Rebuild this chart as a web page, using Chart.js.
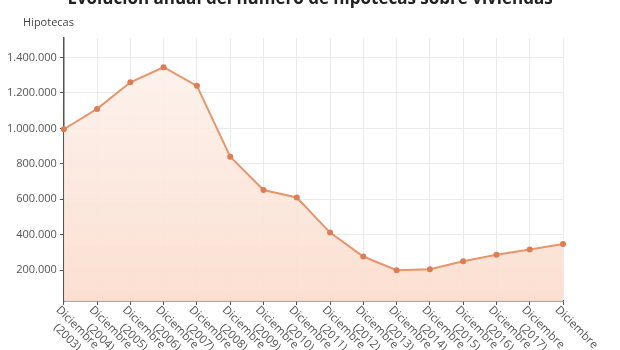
<!DOCTYPE html>
<html lang="es">
<head>
  <meta charset="UTF-8">
  <title>Evolución anual del número de hipotecas sobre viviendas</title>
  <script src="https://cdn.jsdelivr.net/npm/chart.js"></script>
  <style>
    html, body { margin: 0; padding: 0; background: #fff; }
    #wrap { position: relative; width: 620px; height: 350px; }
  </style>
</head>
<body>
  <div id="wrap"><canvas id="grafico" width="620" height="350"></canvas></div>

  <script>
    const titulo = 'Evolución anual del número de hipotecas sobre viviendas';
    const ejeY = 'Hipotecas';

    const anios = ['2003', '2004', '2005', '2006', '2007', '2008', '2009', '2010',
                   '2011', '2012', '2013', '2014', '2015', '2016', '2017', ''];
    const hipotecas = [995000, 1110000, 1260000, 1345000, 1240000, 840000, 652000, 610000,
                       412000, 277000, 200000, 205000, 250000, 287000, 316000, 348000];
    const ticksY = [200000, 400000, 600000, 800000, 1000000, 1200000, 1400000];

    const etiquetas = anios.map(a => a ? ['Diciembre', '(' + a + ')'] : ['Diciembre']);

    function formato(v) {
      return String(v).replace(/\B(?=(\d{3})+(?!\d))/g, '.');
    }

    // titulo y rotulo del eje
    const textos = {
      id: 'textos',
      afterDraw(chart) {
        const ctx = chart.ctx;
        ctx.save();
        ctx.fillStyle = '#222';
        ctx.font = 'bold 17px "Open Sans"';
        ctx.textAlign = 'center';
        ctx.textBaseline = 'alphabetic';
        ctx.fillText(titulo, 310, 4);
        ctx.fillStyle = '#444';
        ctx.font = '11px "Open Sans"';
        ctx.textAlign = 'left';
        ctx.textBaseline = 'middle';
        ctx.fillText(ejeY, 23, 23);
        ctx.restore();
      }
    };

    // etiquetas del eje x giradas hacia abajo a la derecha
    const etiquetasX = {
      id: 'etiquetasX',
      afterDraw(chart) {
        const ctx = chart.ctx;
        const xs = chart.scales.x;
        ctx.save();
        ctx.fillStyle = '#555';
        ctx.font = '11.5px "Open Sans"';
        ctx.textBaseline = 'top';
        ctx.textAlign = 'left';
        etiquetas.forEach((lineas, i) => {
          const x = xs.getPixelForTick(i);
          const y = xs.top + 3;
          ctx.save();
          ctx.translate(x - 2, y);
          ctx.rotate(Math.PI / 4);
          const w1 = ctx.measureText(lineas[0]).width;
          lineas.forEach((t, j) => {
            const w = ctx.measureText(t).width;
            ctx.fillText(t, (w1 - w) / 2, j * 14);
          });
          ctx.restore();
        });
        ctx.restore();
      }
    };

    const ctx = document.getElementById('grafico').getContext('2d');

    const relleno = ctx.createLinearGradient(0, 38, 0, 301);
    relleno.addColorStop(0, 'rgba(253, 243, 238, 0.9)');
    relleno.addColorStop(1, 'rgba(251, 222, 207, 0.95)');

    new Chart(ctx, {
      type: 'line',
      data: {
        labels: anios,
        datasets: [{
          data: hipotecas,
          borderColor: '#e9956b',
          borderWidth: 2,
          backgroundColor: relleno,
          fill: 'start',
          tension: 0,
          pointRadius: 3,
          pointBackgroundColor: '#dc7d55',
          pointBorderColor: '#dc7d55',
          pointBorderWidth: 0
        }]
      },
      options: {
        responsive: false,
        animation: false,
        layout: { padding: { left: 4, right: 57, top: 38, bottom: 45 } },
        plugins: {
          legend: { display: false },
          tooltip: { enabled: false },
          title: { display: false }
        },
        scales: {
          x: {
            offset: false,
            grid: { color: '#ebebeb', tickLength: 4, tickColor: '#555' },
            border: { color: '#555', width: 1.5 },
            ticks: { display: false }
          },
          y: {
            min: 26000,
            max: 1510000,
            afterBuildTicks(scale) {
              scale.ticks = ticksY.map(v => ({ value: v }));
            },
            grid: { color: '#ebebeb', tickLength: 4, tickColor: '#555' },
            border: { color: '#555', width: 1.5 },
            ticks: {
              color: '#555',
              font: { family: 'Open Sans', size: 11 },
              padding: 3,
              callback: v => formato(v)
            }
          }
        }
      },
      plugins: [textos, etiquetasX]
    });
  </script>
</body>
</html>
